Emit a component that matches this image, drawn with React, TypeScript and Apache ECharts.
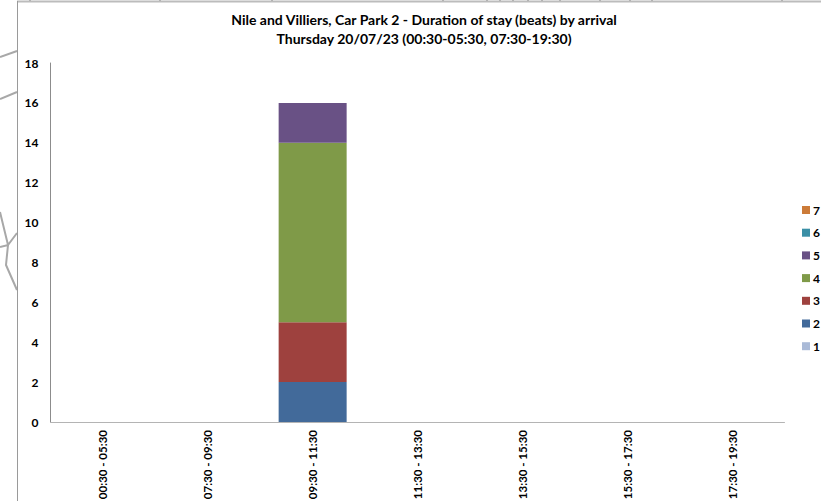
import React, { useEffect, useRef } from "react";
import * as echarts from "echarts";

const WIDTH = 821;
const HEIGHT = 501;
const FONT = "Lato, 'Noto Sans', sans-serif";

const titleLines = [
  "Nile and Villiers, Car Park 2 - Duration of stay (beats) by arrival",
  "Thursday 20/07/23 (00:30-05:30, 07:30-19:30)",
];
const arrivalBands = [
  "00:30 - 05:30",
  "07:30 - 09:30",
  "09:30 - 11:30",
  "11:30 - 13:30",
  "13:30 - 15:30",
  "15:30 - 17:30",
  "17:30 - 19:30",
];
const stay1 = [0, 0, 0, 0, 0, 0, 0];
const stay2 = [0, 0, 2, 0, 0, 0, 0];
const stay3 = [0, 0, 3, 0, 0, 0, 0];
const stay4 = [0, 0, 9, 0, 0, 0, 0];
const stay5 = [0, 0, 2, 0, 0, 0, 0];
const stay6 = [0, 0, 0, 0, 0, 0, 0];
const stay7 = [0, 0, 0, 0, 0, 0, 0];
const stayNames = ["1", "2", "3", "4", "5", "6", "7"];
const stayValues = [stay1, stay2, stay3, stay4, stay5, stay6, stay7];
const stayColors = ["#AABAD7", "#426A9A", "#9E413E", "#7F9A48", "#695185", "#3A8FA6", "#CC7B38"];

// Street map lines showing around the chart panel
const streetColor = "#a8a8a8";
const streets = [
  [[0, 57], [17, 51]],
  [[0, 99], [17, 92]],
  [[0, 212], [8, 245], [17, 233]],
  [[0, 247], [8, 245], [6, 265], [17, 290]],
  ...[30, 160, 272, 443, 487, 500, 513, 528, 542, 560, 600, 630, 652, 782].map((x) => [[x, 0], [x, 2]]),
];

export default function App() {
  const ref = useRef<HTMLDivElement>(null);

  useEffect(() => {
    document.body.style.margin = "0";
    const chart = echarts.init(ref.current!, undefined, { renderer: "svg" });
    chart.setOption({
      animation: false,
      backgroundColor: "#ffffff",
      textStyle: { fontFamily: FONT },
      title: {
        text: titleLines.join("\n"),
        left: 424,
        top: 10,
        padding: 0,
        textAlign: "center",
        textStyle: {
          fontFamily: FONT,
          fontSize: 14,
          fontWeight: "bold",
          color: "#000000",
          lineHeight: 19,
        },
      },
      legend: {
        orient: "vertical",
        left: 802,
        top: 204,
        itemWidth: 8,
        itemHeight: 8,
        itemGap: 10.7,
        padding: 0,
        icon: "rect",
        selectedMode: false,
        data: [...stayNames].reverse(),
        textStyle: {
          fontFamily: FONT,
          fontSize: 12,
          fontWeight: "bold",
          color: "#000000",
          padding: [0, 0, 0, -2],
        },
      },
      grid: { left: 50.5, right: 36.5, top: 63, bottom: 79, outerBoundsMode: "none" },
      xAxis: {
        type: "category",
        data: arrivalBands,
        axisTick: { show: false },
        axisLine: { lineStyle: { color: "#b4b4b4", width: 1 } },
        axisLabel: {
          rotate: 90,
          margin: 8,
          interval: 0,
          fontFamily: FONT,
          fontSize: 11.5,
          fontWeight: "bold",
          color: "#000000",
        },
      },
      yAxis: {
        type: "value",
        min: 0,
        max: 18,
        interval: 2,
        splitLine: { show: false },
        axisTick: { show: false },
        axisLine: { show: true, lineStyle: { color: "#8c8c8c", width: 1 } },
        axisLabel: {
          margin: 12,
          fontFamily: FONT,
          fontSize: 12,
          fontWeight: "bold",
          color: "#000000",
        },
      },
      series: stayNames.map((name, i) => ({
        name,
        type: "bar",
        stack: "stay",
        barWidth: 68,
        data: stayValues[i],
        itemStyle: { color: stayColors[i] },
      })),
      graphic: [
        ...streets.map((points) => ({
          type: "polyline",
          shape: { points },
          style: { stroke: streetColor, lineWidth: 2, fill: "none" },
          silent: true,
        })),
        {
          type: "line",
          shape: { x1: 17, y1: 1.5, x2: WIDTH, y2: 1.5 },
          style: { stroke: "#bcbcbc", lineWidth: 2 },
          silent: true,
        },
        {
          type: "line",
          shape: { x1: 17.5, y1: 1, x2: 17.5, y2: HEIGHT },
          style: { stroke: "#9a9a9a", lineWidth: 1 },
          silent: true,
        },
      ],
    });
    return () => chart.dispose();
  }, []);

  return (
    <div
      ref={ref}
      style={{ position: "fixed", left: 0, top: 0, width: WIDTH, height: HEIGHT, overflow: "hidden" }}
    />
  );
}
